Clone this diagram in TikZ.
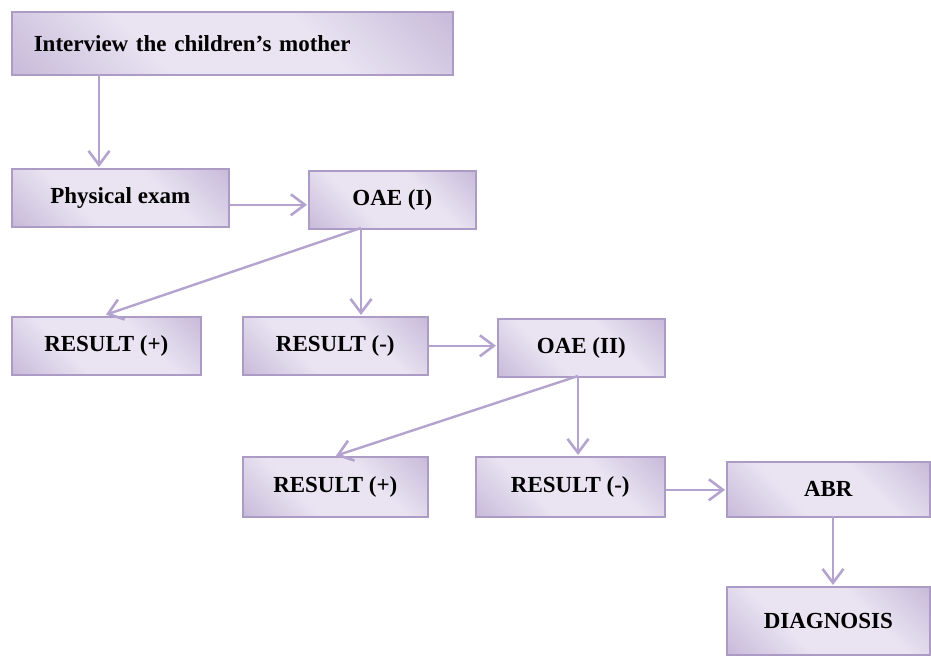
\documentclass[tikz,border=0pt]{standalone}
\usepackage{fontspec}
\setmainfont{Liberation Serif}
\usetikzlibrary{arrows.meta,calc}
\definecolor{bxdark}{RGB}{178,160,202}
\definecolor{bxlight}{RGB}{234,228,242}
\definecolor{bxborder}{RGB}{172,155,196}
\definecolor{arrcol}{RGB}{180,163,206}
\pgfdeclarehorizontalshading{boxshade}{100bp}{color(0bp)=(bxdark); color(38bp)=(bxlight); color(62bp)=(bxlight); color(100bp)=(bxdark)}
\tikzset{
  box/.style={draw=bxborder, line width=1.6pt, shading=boxshade, shading angle=45,
    inner sep=0pt, anchor=north west, font=\fontsize{23}{27}\selectfont\bfseries},
  arr/.style={draw=arrcol, line width=2.4pt, shorten >=1pt,
    -{Straight Barb[length=14pt,width=21pt,line width=2.6pt]}}
}
\begin{document}
\begin{tikzpicture}[x=1pt,y=-1pt]
\useasboundingbox (0,0) rectangle (931,656);
% boxes
\node[box, minimum width=441pt, minimum height=63pt, text width=397pt, align=left, inner xsep=22pt] (int) at (11,11) {Interview the children’s mother};
\node[box, minimum width=217pt, minimum height=58pt] (phy) at (11,168) {Physical exam};
\node[box, minimum width=167pt, minimum height=58pt] (oae1) at (308,170) {OAE (I)};
\node[box, minimum width=189pt, minimum height=58pt] (rp1) at (11,316) {RESULT (+)};
\node[box, minimum width=185pt, minimum height=58pt] (rm1) at (242,316) {RESULT (-)};
\node[box, minimum width=167pt, minimum height=58pt] (oae2) at (497,318) {OAE (II)};
\node[box, minimum width=185pt, minimum height=60pt] (rp2) at (242,456) {RESULT (+)};
\node[box, minimum width=189pt, minimum height=60pt] (rm2) at (475,456) {RESULT (-)};
\node[box, minimum width=203pt, minimum height=55pt] (abr) at (726,461) {ABR};
\node[box, minimum width=203pt, minimum height=68pt] (dia) at (726,586) {DIAGNOSIS};
% connector points
\coordinate (c1) at (99,74);
\coordinate (c2) at (361,228);
\coordinate (c2t) at (105,315);
\coordinate (c3) at (578,376);
\coordinate (c3t) at (335,456);
\coordinate (c4) at (833,516);
% connectors
\draw[arr] (c1) -- (c1 |- phy.north);
\draw[arr] ([yshift=-7pt]phy.east) -- ([yshift=-7pt]phy.east -| oae1.west);
\draw[arr] (c2) -- (c2t);
\draw[arr] (c2) -- (c2 |- rm1.north);
\draw[arr] (rm1.east) -- (rm1.east -| oae2.west);
\draw[arr] (c3) -- (c3t);
\draw[arr] (c3) -- (c3 |- rm2.north);
\draw[arr] ([yshift=-3pt]rm2.east) -- ([yshift=-3pt]rm2.east -| abr.west);
\draw[arr] (c4) -- (c4 |- dia.north);
\end{tikzpicture}
\end{document}
